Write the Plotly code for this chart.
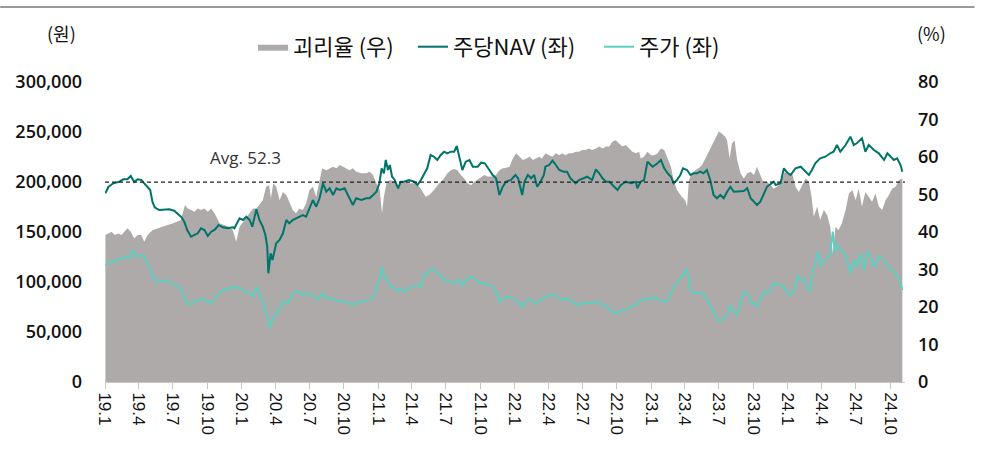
import plotly.graph_objects as go

# ---------------- data ----------------
nav_dates = [
    "2019-01-02", "2019-01-10", "2019-01-23", "2019-02-06", "2019-02-19", "2019-03-02", "2019-03-11",
    "2019-03-20", "2019-03-29", "2019-04-08", "2019-04-16", "2019-04-25", "2019-05-02", "2019-05-08",
    "2019-05-14", "2019-05-26", "2019-06-09", "2019-06-22", "2019-07-05", "2019-07-14", "2019-07-25",
    "2019-08-01", "2019-08-09", "2019-08-19", "2019-08-28", "2019-09-06", "2019-09-15", "2019-09-24",
    "2019-10-03", "2019-10-12", "2019-10-21", "2019-11-01", "2019-11-12", "2019-11-25", "2019-12-09",
    "2019-12-13", "2019-12-27", "2020-01-05", "2020-01-14", "2020-01-23", "2020-01-30", "2020-02-10",
    "2020-02-18", "2020-02-27", "2020-03-05", "2020-03-10", "2020-03-13", "2020-03-19", "2020-03-24",
    "2020-04-03", "2020-04-12", "2020-04-21", "2020-04-30", "2020-05-08", "2020-05-17", "2020-05-26",
    "2020-06-04", "2020-06-13", "2020-06-22", "2020-07-01", "2020-07-10", "2020-07-19", "2020-07-28",
    "2020-08-06", "2020-08-15", "2020-08-24", "2020-09-02", "2020-09-11", "2020-09-20", "2020-10-03",
    "2020-10-12", "2020-10-25", "2020-11-03", "2020-11-17", "2020-11-30", "2020-12-09", "2020-12-18",
    "2020-12-27", "2021-01-04", "2021-01-10", "2021-01-16", "2021-01-21", "2021-01-27", "2021-02-01",
    "2021-02-07", "2021-02-14", "2021-02-23", "2021-03-02", "2021-03-11", "2021-03-24", "2021-04-07",
    "2021-04-16", "2021-04-25", "2021-05-04", "2021-05-12", "2021-05-21", "2021-05-30", "2021-06-08",
    "2021-06-17", "2021-06-26", "2021-07-05", "2021-07-14", "2021-07-23", "2021-07-30", "2021-08-06",
    "2021-08-14", "2021-08-23", "2021-09-02", "2021-09-11", "2021-09-24", "2021-10-03", "2021-10-13",
    "2021-10-25", "2021-11-03", "2021-11-12", "2021-11-21", "2021-11-30", "2021-12-09", "2021-12-22",
    "2022-01-03", "2022-01-10", "2022-01-21", "2022-01-27", "2022-02-05", "2022-02-14", "2022-02-22",
    "2022-03-02", "2022-03-11", "2022-03-20", "2022-03-24", "2022-04-03", "2022-04-12", "2022-04-21",
    "2022-04-30", "2022-05-12", "2022-05-21", "2022-05-30", "2022-06-13", "2022-06-22", "2022-07-05",
    "2022-07-14", "2022-07-27", "2022-08-06", "2022-08-15", "2022-08-24", "2022-09-02", "2022-09-11",
    "2022-09-24", "2022-10-03", "2022-10-12", "2022-10-25", "2022-11-08", "2022-11-21", "2022-11-25",
    "2022-12-04", "2022-12-13", "2022-12-22", "2023-01-05", "2023-01-18", "2023-01-27", "2023-02-05",
    "2023-02-14", "2023-02-23", "2023-03-02", "2023-03-11", "2023-03-20", "2023-03-27", "2023-04-07",
    "2023-04-16", "2023-04-25", "2023-05-04", "2023-05-12", "2023-05-21", "2023-05-30", "2023-06-08",
    "2023-06-17", "2023-06-26", "2023-07-05", "2023-07-14", "2023-07-23", "2023-08-01", "2023-08-10",
    "2023-08-23", "2023-09-06", "2023-09-15", "2023-09-24", "2023-10-03", "2023-10-11", "2023-10-20",
    "2023-10-29", "2023-11-07", "2023-11-16", "2023-11-25", "2023-11-30", "2023-12-13", "2023-12-22",
    "2024-01-02", "2024-01-09", "2024-01-22", "2024-02-05", "2024-02-14", "2024-02-27", "2024-03-06",
    "2024-03-15", "2024-03-28", "2024-04-11", "2024-04-24", "2024-05-03", "2024-05-12", "2024-05-21",
    "2024-06-04", "2024-06-17", "2024-06-26", "2024-07-04", "2024-07-18", "2024-07-27", "2024-08-05",
    "2024-08-19", "2024-09-01", "2024-09-15", "2024-09-24", "2024-10-02", "2024-10-11", "2024-10-20",
    "2024-10-29", "2024-11-03",
]
nav_values = [
    188700, 195000, 198700, 200000, 202700, 202700, 206000,
    200000, 202700, 202000, 198700, 195000, 192000, 180000,
    174700, 172000, 172700, 172700, 171300, 168700, 164700,
    160300, 152000, 145300, 147000, 148700, 153700, 152000,
    146000, 150300, 152000, 157000, 154700, 153700, 154700,
    153700, 163700, 162000, 165300, 162000, 155300, 172700,
    162000, 155300, 147000, 135300, 108700, 128700, 122000,
    138700, 142000, 148700, 162000, 158700, 162000, 163700,
    165300, 167000, 165300, 173700, 182000, 175300, 183700,
    198700, 190300, 193700, 187000, 193700, 192000, 193700,
    187000, 177000, 183700, 182000, 183700, 183700, 187000,
    190300, 198700, 213700, 208700, 222000, 212000, 217000,
    205300, 202000, 193700, 200300, 200300, 202000, 200300,
    197000, 202000, 208700, 213700, 227000, 225300, 222000,
    227000, 230300, 228700, 230300, 230300, 236000, 225300,
    212000, 220300, 222000, 215300, 215300, 219300, 218700,
    212000, 207000, 203700, 187000, 195300, 200300, 202000,
    207000, 203700, 187000, 200300, 207000, 203700, 207000,
    195300, 200300, 207000, 215300, 217000, 221300, 217000,
    212000, 210300, 210300, 203700, 198700, 202000, 203700,
    205300, 202000, 212700, 208700, 203700, 200300, 200300,
    195300, 192000, 197000, 200300, 198700, 200300, 193700,
    200300, 202000, 220300, 215300, 218700, 222000, 213700,
    208700, 205300, 198700, 202000, 207000, 213700, 212000,
    207000, 208700, 208700, 210300, 208700, 212000, 202000,
    187000, 183700, 187000, 183700, 190300, 195300, 190300,
    190300, 191000, 193700, 183700, 180300, 177000, 180300,
    187000, 195300, 197700, 200300, 197000, 198700, 213700,
    208700, 207000, 213700, 215300, 212000, 207000, 212000,
    218700, 223700, 225300, 228700, 230300, 237000, 230300,
    237000, 245300, 237000, 238700, 243700, 230300, 237000,
    232000, 228700, 222000, 228700, 225300, 222000, 223700,
    217000, 210300,
]

price_dates = [
    "2019-01-02", "2019-01-19", "2019-02-06", "2019-02-23", "2019-03-07", "2019-03-16", "2019-03-25",
    "2019-04-08", "2019-04-16", "2019-04-25", "2019-05-04", "2019-05-13", "2019-05-26", "2019-06-13",
    "2019-06-27", "2019-07-10", "2019-07-19", "2019-07-28", "2019-08-06", "2019-08-15", "2019-08-28",
    "2019-09-11", "2019-09-24", "2019-10-07", "2019-10-21", "2019-11-04", "2019-11-17", "2019-11-30",
    "2019-12-09", "2019-12-13", "2019-12-27", "2020-01-10", "2020-01-23", "2020-02-01", "2020-02-10",
    "2020-02-18", "2020-02-27", "2020-03-05", "2020-03-11", "2020-03-17", "2020-03-24", "2020-04-03",
    "2020-04-12", "2020-04-21", "2020-04-30", "2020-05-08", "2020-05-17", "2020-05-26", "2020-06-04",
    "2020-06-13", "2020-06-27", "2020-07-10", "2020-07-23", "2020-08-06", "2020-08-15", "2020-08-29",
    "2020-09-11", "2020-09-24", "2020-10-07", "2020-10-25", "2020-11-07", "2020-11-21", "2020-12-04",
    "2020-12-18", "2020-12-27", "2021-01-05", "2021-01-10", "2021-01-16", "2021-01-23", "2021-02-01",
    "2021-02-14", "2021-02-23", "2021-03-02", "2021-03-11", "2021-03-24", "2021-04-07", "2021-04-16",
    "2021-04-25", "2021-05-04", "2021-05-12", "2021-05-26", "2021-06-04", "2021-06-17", "2021-07-01",
    "2021-07-14", "2021-07-27", "2021-08-06", "2021-08-14", "2021-08-23", "2021-09-06", "2021-09-20",
    "2021-09-29", "2021-10-12", "2021-10-25", "2021-11-03", "2021-11-12", "2021-11-21", "2021-11-30",
    "2021-12-04", "2021-12-18", "2022-01-03", "2022-01-14", "2022-01-21", "2022-02-01", "2022-02-14",
    "2022-02-28", "2022-03-11", "2022-03-24", "2022-04-12", "2022-04-25", "2022-05-08", "2022-05-21",
    "2022-06-04", "2022-06-17", "2022-06-30", "2022-07-14", "2022-07-27", "2022-08-10", "2022-08-24",
    "2022-09-06", "2022-09-19", "2022-10-03", "2022-10-12", "2022-10-25", "2022-11-08", "2022-11-21",
    "2022-11-30", "2022-12-13", "2022-12-27", "2023-01-09", "2023-01-22", "2023-02-09", "2023-02-18",
    "2023-02-27", "2023-03-06", "2023-03-15", "2023-03-24", "2023-03-29", "2023-04-07", "2023-04-12",
    "2023-04-16", "2023-04-25", "2023-05-08", "2023-05-17", "2023-05-26", "2023-06-04", "2023-06-13",
    "2023-06-22", "2023-07-01", "2023-07-09", "2023-07-23", "2023-08-01", "2023-08-10", "2023-08-19",
    "2023-08-28", "2023-09-06", "2023-09-15", "2023-09-24", "2023-10-03", "2023-10-11", "2023-10-20",
    "2023-10-29", "2023-11-07", "2023-11-16", "2023-11-25", "2023-12-09", "2023-12-22", "2024-01-05",
    "2024-01-18", "2024-01-27", "2024-02-05", "2024-02-14", "2024-02-23", "2024-03-02", "2024-03-06",
    "2024-03-15", "2024-03-22", "2024-03-28", "2024-04-07", "2024-04-16", "2024-04-24", "2024-05-01",
    "2024-05-06", "2024-05-12", "2024-05-21", "2024-05-30", "2024-06-08", "2024-06-17", "2024-06-26",
    "2024-07-04", "2024-07-14", "2024-07-23", "2024-08-01", "2024-08-10", "2024-08-19", "2024-09-01",
    "2024-09-15", "2024-09-28", "2024-10-11", "2024-10-25", "2024-11-03",
]
price_values = [
    117000, 120300, 122000, 125300, 123700, 132000, 125300,
    127000, 125300, 118700, 110300, 102000, 100300, 102000,
    99300, 97000, 95300, 88700, 80300, 77000, 80300,
    82000, 83700, 78700, 82000, 90300, 92000, 93700,
    95300, 95300, 93700, 90300, 88700, 85300, 95300,
    87000, 80300, 72000, 63700, 53700, 62000, 70300,
    72000, 80300, 78700, 80300, 88700, 90300, 90300,
    87000, 88700, 87000, 82000, 88700, 83700, 83700,
    82000, 80300, 80300, 77000, 80300, 80300, 82000,
    83700, 93700, 103700, 115300, 107000, 102000, 97000,
    93700, 90300, 93700, 90300, 93700, 95300, 97000,
    95300, 107000, 108700, 113700, 110300, 107000, 100300,
    100300, 98700, 102000, 95300, 102000, 105300, 102000,
    98700, 98700, 97000, 95300, 90300, 80300, 83700,
    83700, 85300, 82000, 78700, 75300, 82000, 82000,
    78700, 82000, 85300, 88000, 85300, 82000, 83700,
    80300, 77000, 78700, 78700, 79300, 80300, 77000,
    75300, 70300, 68700, 72000, 72000, 75300, 77000,
    80300, 83700, 82000, 85300, 82000, 80300, 85300,
    92000, 97000, 100300, 107000, 108700, 113700, 102000,
    92000, 88700, 89300, 88700, 85300, 78700, 73700,
    65300, 60300, 62000, 67000, 77000, 70300, 67000,
    80300, 90300, 88700, 80300, 78700, 75300, 82000,
    90300, 88700, 92000, 98700, 97000, 95300, 87000,
    90300, 107000, 102000, 103700, 93700, 92000, 108700,
    118700, 130300, 115300, 122000, 123700, 130300, 150300,
    128700, 137000, 133700, 128700, 122000, 108700, 122000,
    115300, 128700, 112000, 130300, 125300, 115300, 125300,
    122000, 113700, 110300, 103700, 92000,
]

disc_dates = [
    "2019-01-02", "2019-01-10", "2019-01-19", "2019-01-27", "2019-02-06", "2019-02-14", "2019-02-23",
    "2019-03-02", "2019-03-11", "2019-03-20", "2019-03-29", "2019-04-08", "2019-04-16", "2019-04-25",
    "2019-05-08", "2019-05-21", "2019-06-04", "2019-06-17", "2019-07-01", "2019-07-10", "2019-07-23",
    "2019-08-03", "2019-08-10", "2019-08-19", "2019-08-28", "2019-09-06", "2019-09-15", "2019-09-24",
    "2019-10-03", "2019-10-12", "2019-10-21", "2019-11-04", "2019-11-17", "2019-11-30", "2019-12-09",
    "2019-12-18", "2019-12-27", "2020-01-10", "2020-01-23", "2020-02-01", "2020-02-10", "2020-02-18",
    "2020-02-27", "2020-03-07", "2020-03-15", "2020-03-20", "2020-03-26", "2020-04-03", "2020-04-12",
    "2020-04-21", "2020-04-30", "2020-05-08", "2020-05-17", "2020-05-26", "2020-06-04", "2020-06-13",
    "2020-06-22", "2020-07-01", "2020-07-10", "2020-07-19", "2020-07-28", "2020-08-04", "2020-08-15",
    "2020-08-24", "2020-09-02", "2020-09-11", "2020-09-20", "2020-09-29", "2020-10-07", "2020-10-16",
    "2020-10-25", "2020-11-03", "2020-11-17", "2020-11-30", "2020-12-09", "2020-12-18", "2020-12-27",
    "2021-01-05", "2021-01-11", "2021-01-16", "2021-01-23", "2021-02-01", "2021-02-14", "2021-02-23",
    "2021-03-02", "2021-03-11", "2021-03-24", "2021-04-07", "2021-04-21", "2021-04-29", "2021-05-08",
    "2021-05-17", "2021-05-30", "2021-06-13", "2021-06-26", "2021-07-05", "2021-07-14", "2021-07-23",
    "2021-08-01", "2021-08-10", "2021-08-19", "2021-08-28", "2021-09-06", "2021-09-15", "2021-09-29",
    "2021-10-12", "2021-10-20", "2021-11-03", "2021-11-12", "2021-11-21", "2021-11-30", "2021-12-04",
    "2021-12-18", "2021-12-27", "2022-01-05", "2022-01-14", "2022-01-23", "2022-02-01", "2022-02-10",
    "2022-02-19", "2022-02-28", "2022-03-07", "2022-03-15", "2022-03-24", "2022-04-03", "2022-04-12",
    "2022-04-21", "2022-04-30", "2022-05-08", "2022-05-17", "2022-05-26", "2022-06-04", "2022-06-13",
    "2022-06-22", "2022-06-30", "2022-07-09", "2022-07-18", "2022-07-27", "2022-08-06", "2022-08-15",
    "2022-08-24", "2022-09-02", "2022-09-11", "2022-09-19", "2022-09-28", "2022-10-07", "2022-10-16",
    "2022-10-25", "2022-11-03", "2022-11-12", "2022-11-21", "2022-11-30", "2022-12-04", "2022-12-13",
    "2022-12-22", "2023-01-01", "2023-01-09", "2023-01-18", "2023-01-27", "2023-02-05", "2023-02-14",
    "2023-02-23", "2023-03-02", "2023-03-11", "2023-03-24", "2023-04-02", "2023-04-07", "2023-04-12",
    "2023-04-20", "2023-04-29", "2023-05-08", "2023-05-17", "2023-05-26", "2023-06-04", "2023-06-13",
    "2023-06-22", "2023-07-01", "2023-07-09", "2023-07-18", "2023-07-23", "2023-07-30", "2023-08-05",
    "2023-08-12", "2023-08-19", "2023-08-28", "2023-09-06", "2023-09-15", "2023-09-24", "2023-10-03",
    "2023-10-11", "2023-10-20", "2023-10-29", "2023-11-07", "2023-11-16", "2023-11-25", "2023-12-04",
    "2023-12-13", "2023-12-26", "2024-01-05", "2024-01-13", "2024-01-22", "2024-01-31", "2024-02-09",
    "2024-02-18", "2024-02-27", "2024-03-05", "2024-03-11", "2024-03-20", "2024-03-28", "2024-04-07",
    "2024-04-16", "2024-04-24", "2024-05-01", "2024-05-08", "2024-05-16", "2024-05-25", "2024-06-04",
    "2024-06-13", "2024-06-22", "2024-07-01", "2024-07-09", "2024-07-18", "2024-07-27", "2024-08-05",
    "2024-08-14", "2024-08-23", "2024-09-01", "2024-09-10", "2024-09-19", "2024-09-28", "2024-10-07",
    "2024-10-16", "2024-10-25", "2024-11-03",
]
disc_values = [
    39.2, 39.6, 40.1, 39.2, 39.6, 39.2, 40.1,
    41.0, 40.1, 38.3, 39.2, 39.2, 37.4, 39.2,
    40.5, 41.0, 41.4, 41.9, 42.3, 42.7, 43.2,
    47.2, 46.3, 45.9, 45.4, 46.3, 45.9, 46.3,
    45.4, 46.3, 45.0, 42.3, 41.9, 41.4, 40.5,
    37.4, 41.4, 43.2, 45.0, 46.3, 46.3, 47.2,
    48.5, 52.1, 52.5, 49.0, 53.0, 52.1, 48.5,
    50.7, 49.9, 48.1, 45.9, 45.0, 46.3, 45.9,
    47.6, 51.2, 52.1, 49.4, 53.4, 57.0, 56.5,
    57.0, 57.4, 57.0, 57.9, 57.4, 57.0, 56.5,
    57.0, 56.1, 55.7, 55.7, 56.1, 55.2, 53.0,
    51.2, 45.0, 49.4, 53.0, 53.9, 53.4, 52.1,
    53.0, 53.4, 53.0, 53.0, 52.1, 50.7, 49.4,
    49.9, 51.2, 53.0, 54.3, 55.7, 56.5, 56.8,
    56.5, 55.2, 54.3, 53.0, 52.5, 53.4, 54.3,
    55.2, 54.8, 54.8, 55.2, 56.5, 57.0, 57.0,
    57.4, 59.6, 61.0, 60.1, 59.2, 59.6, 60.1,
    59.2, 59.6, 60.1, 59.6, 61.0, 60.5, 60.1,
    61.0, 60.5, 61.0, 60.5, 61.0, 61.0, 61.4,
    61.4, 61.9, 61.9, 62.3, 61.9, 62.3, 62.8,
    62.3, 62.8, 62.8, 64.1, 64.5, 63.6, 62.8,
    63.2, 62.3, 61.4, 61.0, 61.4, 59.6, 60.1,
    61.4, 60.5, 60.5, 61.0, 62.3, 61.9, 59.6,
    57.4, 53.9, 51.2, 49.4, 48.5, 46.8, 53.9,
    55.7, 56.5, 57.0, 57.9, 59.6, 61.4, 63.2,
    65.4, 66.8, 66.3, 65.4, 64.5, 59.6, 63.6,
    64.5, 59.2, 55.7, 54.3, 55.7, 56.1, 55.2,
    57.4, 55.2, 53.0, 53.4, 52.5, 51.6, 52.1,
    53.0, 56.5, 55.7, 55.7, 52.1, 50.7, 52.5,
    54.3, 53.4, 49.4, 44.1, 46.8, 43.2, 45.9,
    44.5, 41.4, 34.3, 41.4, 40.5, 42.3, 45.9,
    50.3, 51.2, 48.5, 51.6, 46.8, 50.7, 49.4,
    48.1, 50.3, 46.8, 45.9, 48.5, 49.9, 51.6,
    52.1, 53.9, 54.3,
]

tick_dates = [
    "2019-01-01", "2019-04-01", "2019-07-01", "2019-10-01", "2020-01-01", "2020-04-01",
    "2020-07-01", "2020-10-01", "2021-01-01", "2021-04-01", "2021-07-01", "2021-10-01",
    "2022-01-01", "2022-04-01", "2022-07-01", "2022-10-01", "2023-01-01", "2023-04-01",
    "2023-07-01", "2023-10-01", "2024-01-01", "2024-04-01", "2024-07-01", "2024-10-01",
]
tick_labels = [
    "19.1", "19.4", "19.7", "19.10", "20.1", "20.4", "20.7", "20.10", "21.1", "21.4",
    "21.7", "21.10", "22.1", "22.4", "22.7", "22.10", "23.1", "23.4", "23.7", "23.10",
    "24.1", "24.4", "24.7", "24.10",
]

series_names = ["괴리율 (우)", "주당NAV (좌)", "주가 (좌)"]
avg_text = "Avg. 52.3"
avg_level = 53.3   # level at which the dashed average line is drawn in the picture (right axis)

# ---------------- styling ----------------
KR = "Noto Sans CJK KR"
NUM = "Open Sans"
XF = "Liberation Sans"
C_AREA = "#AEAAAA"
C_NAV = "#00746A"
C_PRICE = "#5ED0C0"

fig = go.Figure()

fig.add_trace(go.Scatter(
    x=disc_dates, y=disc_values, name=series_names[0], yaxis="y", legend="legend",
    mode="lines", line=dict(width=0, color=C_AREA), fill="tozeroy",
    fillcolor=C_AREA, hoverinfo="skip",
))
fig.add_trace(go.Scatter(
    x=nav_dates, y=nav_values, name=series_names[1], yaxis="y2", legend="legend2",
    mode="lines", line=dict(width=2, color=C_NAV),
))
fig.add_trace(go.Scatter(
    x=price_dates, y=price_values, name=series_names[2], yaxis="y2", legend="legend3",
    mode="lines", line=dict(width=2, color=C_PRICE),
))

fig.add_shape(type="line", xref="paper", x0=0, x1=1, yref="y", y0=avg_level, y1=avg_level,
              line=dict(color="#222222", width=1.2, dash="4px,3px"), layer="above")
fig.add_annotation(x="2020-01-12", y=avg_level, xref="x", yref="y", text=avg_text,
                   showarrow=False, yanchor="bottom", yshift=11,
                   font=dict(family=NUM, size=17, color="#333333"))

# top rule
fig.add_shape(type="line", xref="paper", yref="paper", x0=-0.131, x1=1.087, y0=1.25, y1=1.25,
              line=dict(color="#999999", width=2))

# axis unit labels
fig.add_annotation(xref="paper", yref="paper", x=-0.054, y=1.163, xanchor="center", yanchor="middle",
                   text="(원)", showarrow=False,
                   font=dict(family=KR, size=18, color="#111111"))
fig.add_annotation(xref="paper", yref="paper", x=1.033, y=1.163, xanchor="center", yanchor="middle",
                   text="(%)", showarrow=False,
                   font=dict(family=KR, size=18, color="#111111"))

legend_common = dict(orientation="h", xanchor="left", y=1.117, yanchor="middle",
                     font=dict(family=KR, size=22, color="#111111"), itemwidth=30,
                     bgcolor="rgba(0,0,0,0)", borderwidth=0)

fig.update_layout(
    width=982, height=454,
    margin=dict(l=105, r=77, t=82, b=72),
    paper_bgcolor="white", plot_bgcolor="white",
    showlegend=True,
    legend=dict(x=0.185, **legend_common),
    legend2=dict(x=0.385, **legend_common),
    legend3=dict(x=0.6175, **legend_common),
    xaxis=dict(type="date", range=["2019-01-01", "2024-11-10"],
               tickmode="array", tickvals=tick_dates, ticktext=tick_labels,
               tickangle=90, ticks="outside", ticklen=6, tickcolor="#C8C8C8",
               showline=True, linecolor="#C8C8C8", linewidth=1, showgrid=False, zeroline=False,
               tickfont=dict(family=XF, size=17, color="#111111")),
    yaxis=dict(side="right", range=[0, 80], dtick=10, showgrid=False, zeroline=False,
               showline=False, ticks="", ticklabelstandoff=12,
               tickfont=dict(family=NUM, size=18, color="#111111", weight=600)),
    yaxis2=dict(side="left", overlaying="y", range=[0, 300000], dtick=50000, tickformat=",",
                showgrid=False, zeroline=False, showline=False, ticks="", ticklabelstandoff=22,
                tickfont=dict(family=NUM, size=18, color="#111111", weight=600)),
)

fig.write_html("out.html", config={"displayModeBar": False},
               post_script="document.body.style.margin='0px';document.body.style.overflow='hidden';")
